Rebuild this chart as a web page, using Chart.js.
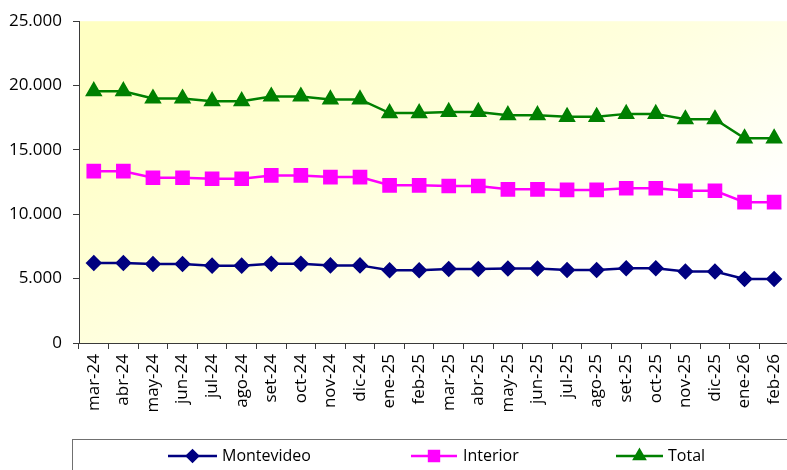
<!DOCTYPE html>
<html>
<head>
<meta charset="utf-8">
<script src="https://cdn.jsdelivr.net/npm/chart.js@4/dist/chart.umd.min.js"></script>
<style>
  html, body { margin: 0; padding: 0; background: #fff; overflow: hidden; }
  #wrap { width: 787px; height: 470px; overflow: hidden; position: relative; }
  #box { width: 800px; height: 470px; position: absolute; left: 0; top: 0; }
</style>
</head>
<body>
<div id="wrap"><div id="box"><canvas id="c"></canvas></div></div>
<script>
const categories = ["mar-24","abr-24","may-24","jun-24","jul-24","ago-24","set-24","oct-24","nov-24","dic-24",
  "ene-25","feb-25","mar-25","abr-25","may-25","jun-25","jul-25","ago-25","set-25","oct-25","nov-25","dic-25",
  "ene-26","feb-26"];
const montevideo = [6210,6210,6130,6130,6010,6010,6160,6160,6030,6030,5650,5650,5750,5750,5780,5780,5670,5670,5800,5800,5550,5550,4980,4980];
const interior   = [13350,13350,12840,12840,12760,12760,13020,13020,12890,12890,12250,12250,12200,12200,11940,11940,11890,11890,12020,12020,11830,11830,10940,10940];
const total      = [19560,19560,18990,18990,18790,18790,19150,19150,18920,18920,17860,17860,17950,17950,17700,17700,17570,17570,17800,17800,17380,17380,15900,15900];
const seriesNames = ["Montevideo","Interior","Total"];
const yTicks = [0,5000,10000,15000,20000,25000];

const FONT = "'Open Sans'";
const AXIS = '#3a3a3a';

function fmt(v){ return String(v).replace(/\B(?=(\d{3})+(?!\d))/g, '.'); }

const bgPlugin = {
  id: 'bg',
  beforeDraw(chart){
    const {ctx, chartArea:a} = chart;
    const g = ctx.createLinearGradient(a.left + 120, a.top, a.left + 330, a.bottom + 60);
    g.addColorStop(0, '#FFFFC2');
    g.addColorStop(0.5, '#FFFFDC');
    g.addColorStop(1, '#FFFFFF');
    ctx.save();
    ctx.fillStyle = g;
    ctx.fillRect(a.left, a.top, a.right-a.left, a.bottom-a.top);
    ctx.restore();
  }
};

const legendPlugin = {
  id: 'customLegend',
  afterDraw(chart){
    const ctx = chart.ctx;
    ctx.save();
    ctx.strokeStyle = '#707070';
    ctx.lineWidth = 1;
    ctx.strokeRect(72.5, 439.5, 800, 60);
    const items = [
      {x1:168, x2:217, tx:222},
      {x1:411, x2:457, tx:463},
      {x1:616, x2:663, tx:668}
    ];
    const y = 456;
    chart.data.datasets.forEach((ds, i) => {
      const it = items[i];
      ctx.strokeStyle = ds.borderColor;
      ctx.lineWidth = 2.5;
      ctx.beginPath(); ctx.moveTo(it.x1, y); ctx.lineTo(it.x2, y); ctx.stroke();
      ctx.fillStyle = ds.pointBackgroundColor;
      ctx.strokeStyle = ds.pointBorderColor;
      Chart.helpers.drawPoint(ctx, {pointStyle: ds.pointStyle, radius: ds.legendRadius, rotation: 0, borderWidth: 1}, (it.x1+it.x2)/2, y);
      ctx.fillStyle = '#000';
      ctx.font = "16px " + FONT;
      ctx.textBaseline = 'middle';
      ctx.textAlign = 'left';
      ctx.fillText(ds.label, it.tx, y);
    });
    ctx.restore();
  }
};

new Chart(document.getElementById('c'), {
  type: 'line',
  data: {
    labels: categories,
    datasets: [
      { label: seriesNames[0], data: montevideo, borderColor: '#000080', backgroundColor: '#000080',
        pointBackgroundColor: '#000080', pointBorderColor: '#000080', pointStyle: 'rectRot', pointRadius: 6.5, legendRadius: 5.5,
        borderWidth: 2.5, tension: 0 },
      { label: seriesNames[1], data: interior, borderColor: '#FF00FF', backgroundColor: '#FF00FF',
        pointBackgroundColor: '#FF00FF', pointBorderColor: '#FF00FF', pointStyle: 'rect', pointRadius: 8.6, legendRadius: 7,
        borderWidth: 2.5, tension: 0 },
      { label: seriesNames[2], data: total, borderColor: '#008000', backgroundColor: '#008000',
        pointBackgroundColor: '#008000', pointBorderColor: '#008000', pointStyle: 'triangle', pointRadius: 7.6, legendRadius: 6,
        borderWidth: 2.5, tension: 0 }
    ]
  },
  options: {
    responsive: true,
    maintainAspectRatio: false,
    animation: false,
    events: [],
    layout: { padding: { top: 19, right: 7, bottom: 0, left: 0 } },
    plugins: { legend: { display: false }, tooltip: { enabled: false } },
    scales: {
      x: {
        type: 'category',
        offset: true,
        grid: { offset: true, drawOnChartArea: false, drawTicks: true, tickLength: 6, color: AXIS, lineWidth: 1 },
        border: { display: true, color: AXIS, width: 1 },
        ticks: { minRotation: 90, maxRotation: 90, autoSkip: false, padding: 5, color: '#000', font: { family: FONT, size: 17 } },
        afterFit(s){ s.height = 127; }
      },
      y: {
        min: 0, max: 25000,
        afterBuildTicks(s){ s.ticks = yTicks.map(v => ({value: v})); },
        grid: { drawOnChartArea: false, drawTicks: true, tickLength: 6, color: AXIS, lineWidth: 1 },
        border: { display: true, color: AXIS, width: 1 },
        ticks: { padding: 11, color: '#000', font: { family: FONT, size: 17 }, callback: v => fmt(v) },
        afterFit(s){ s.width = 79; }
      }
    }
  },
  plugins: [bgPlugin, legendPlugin]
});
</script>
</body>
</html>
